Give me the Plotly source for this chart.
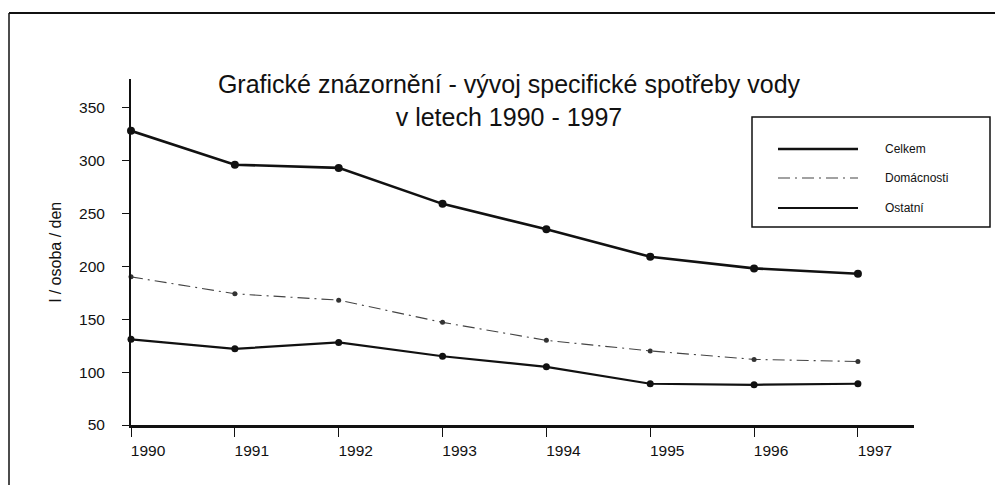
import plotly.graph_objects as go

# ---- data ----
years = [1990, 1991, 1992, 1993, 1994, 1995, 1996, 1997]
celkem = [328, 296, 293, 259, 235, 209, 198, 193]
domacnosti = [190, 174, 168, 147, 130, 120, 112, 110]
ostatni = [131, 122, 128, 115, 105, 89, 88, 89]
series_names = ["Celkem", "Domácnosti", "Ostatní"]
y_ticks = [50, 100, 150, 200, 250, 300, 350]
title_text = "Grafické znázornění - vývoj specifické spotřeby vody<br>v letech 1990 - 1997"
y_title = "l / osoba / den"

W, H = 1003, 485
OFF = 8  # page body margin offset
L, R, T, B = 123, 97, 71, 68
PW, PH = W - L - R, H - T - B


def px(x):
    return (x - OFF - L) / PW


def py(y):
    return (H - B - (y - OFF)) / PH


FONT = "Liberation Sans, Arial, sans-serif"

styles = [
    dict(line=dict(color="#111111", width=2.6), marker=dict(size=8, color="#111111")),
    dict(line=dict(color="#444444", width=1.1, dash="12px,5px,2px,5px"), marker=dict(size=5, color="#333333")),
    dict(line=dict(color="#111111", width=2.2), marker=dict(size=7, color="#111111")),
]

fig = go.Figure()
for name, vals, st in zip(series_names, [celkem, domacnosti, ostatni], styles):
    fig.add_trace(go.Scatter(
        x=years, y=vals, name=name, mode="lines+markers",
        line=st["line"], marker=st["marker"], cliponaxis=False, showlegend=False,
    ))

shapes = []
annotations = []
# legend (drawn manually to match the long sample lines)
shapes.append(dict(type="rect", xref="paper", yref="paper", x0=px(752), x1=px(990), y0=py(227), y1=py(117),
                   line=dict(color="#111111", width=1.5), fillcolor="rgba(0,0,0,0)"))
for i, (name, st) in enumerate(zip(series_names, styles)):
    yy = [149, 178, 208][i]
    shapes.append(dict(type="line", xref="paper", yref="paper", x0=px(778), x1=px(858), y0=py(yy), y1=py(yy),
                       line=st["line"]))
    annotations.append(dict(text=name, xref="paper", yref="paper", x=px(883), y=py(yy), xanchor="left",
                            yanchor="middle", showarrow=False, font=dict(size=12, color="#111111", family=FONT)))
# page frame
shapes.append(dict(type="line", xref="paper", yref="paper", x0=px(9), x1=px(1011), y0=py(13), y1=py(13),
                   line=dict(color="#111111", width=2)))
shapes.append(dict(type="line", xref="paper", yref="paper", x0=px(9), x1=px(9), y0=py(13), y1=py(493),
                   line=dict(color="#111111", width=1.5)))

fig.update_layout(
    width=W, height=H, autosize=False,
    margin=dict(l=L, r=R, t=T, b=B),
    paper_bgcolor="white", plot_bgcolor="white",
    font=dict(family=FONT, color="#111111"),
    title=dict(text=title_text, x=(509 - OFF) / W, xanchor="center", xref="container",
               y=1 - (93 - OFF) / H, yanchor="middle", yref="container",
               font=dict(size=25, family=FONT, color="#111111")),
    shapes=shapes, annotations=annotations,
    showlegend=False,
)
fig.update_xaxes(
    range=[1990, 1997.54], tickvals=years, ticktext=[str(y) for y in years],
    ticks="outside", ticklen=9, tickwidth=1, tickcolor="#111111",
    showline=True, linewidth=3, linecolor="#111111",
    showgrid=False, zeroline=False, tickfont=dict(size=15.5, family=FONT),
    ticklabelshift=17, ticklabelstandoff=0,
)
fig.update_yaxes(
    range=[50, 377], tickvals=y_ticks, ticks="outside", ticklen=7, tickwidth=1, tickcolor="#111111",
    showline=True, linewidth=2, linecolor="#111111",
    showgrid=False, zeroline=False, tickfont=dict(size=15.5, family=FONT),
    ticklabelstandoff=14,
    title=dict(text=y_title, font=dict(size=16, family=FONT), standoff=13),
)

fig.write_html("out.html")
